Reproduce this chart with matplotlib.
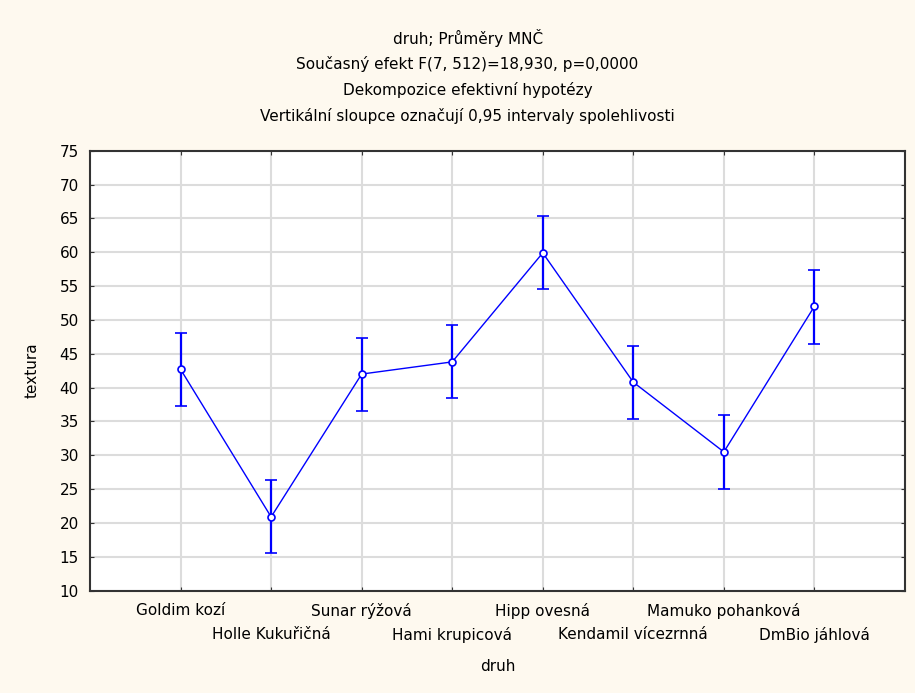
import numpy as np
import matplotlib.pyplot as plt

druh = ['Goldim kozí', 'Holle Kukuřičná', 'Sunar rýžová', 'Hami krupicová',
        'Hipp ovesná', 'Kendamil vícezrnná', 'Mamuko pohanková', 'DmBio jáhlová']
prumer = [42.7, 20.9, 42.0, 43.8, 59.9, 40.8, 30.5, 52.0]
dolni = [37.3, 15.5, 36.5, 38.4, 54.5, 35.3, 25.0, 46.4]
horni = [48.1, 26.3, 47.3, 49.2, 65.3, 46.2, 35.9, 57.3]

titulek = ['druh; Průměry MNČ',
           'Současný efekt F(7, 512)=18,930, p=0,0000',
           'Dekompozice efektivní hypotézy',
           'Vertikální sloupce označují 0,95 intervaly spolehlivosti']

plt.rcParams['font.family'] = ['DejaVu Sans']

fig = plt.figure(figsize=(9.15, 6.93), dpi=100, facecolor='#fef9ef')
ax = fig.add_axes([0.0984, 0.1476, 0.8906, 0.635])
ax.set_facecolor('white')

x = np.arange(1, len(druh) + 1)
m = np.array(prumer)
err = [m - np.array(dolni), np.array(horni) - m]
ax.errorbar(x, m, yerr=err, color='#0000ff', lw=1, marker='o', ms=5,
            mfc='white', mec='#0000ff', mew=1.2, capsize=4.5, elinewidth=1.6,
            capthick=1.4, zorder=3)

ax.set_xlim(0, 9)
ax.set_ylim(10, 75)
ax.set_yticks(np.arange(10, 76, 5))
ax.set_xticks(x)
ax.set_xticklabels(druh)
ax.grid(True, color='#dcdcdc', lw=1.5)
ax.set_axisbelow(True)
ax.tick_params(direction='in', length=3, top=True, right=True, labelsize=11,
               pad=8, color='#333333')
ax.tick_params(axis='x', pad=9)
# druha rada popisku
for i, t in enumerate(ax.xaxis.get_major_ticks()):
    if i % 2 == 1:
        t.set_pad(26)
for s in ax.spines.values():
    s.set_linewidth(1.5)
    s.set_color('#333333')

ax.set_xlabel('druh', fontsize=11, labelpad=12)
ax.set_ylabel('textura', fontsize=11, labelpad=14)

for i, t in enumerate(titulek):
    fig.text(0.511, 1 - (38 + i * 26) / 693, t, ha='center', va='center',
             fontsize=11)

fig.savefig('out.png', facecolor=fig.get_facecolor())
